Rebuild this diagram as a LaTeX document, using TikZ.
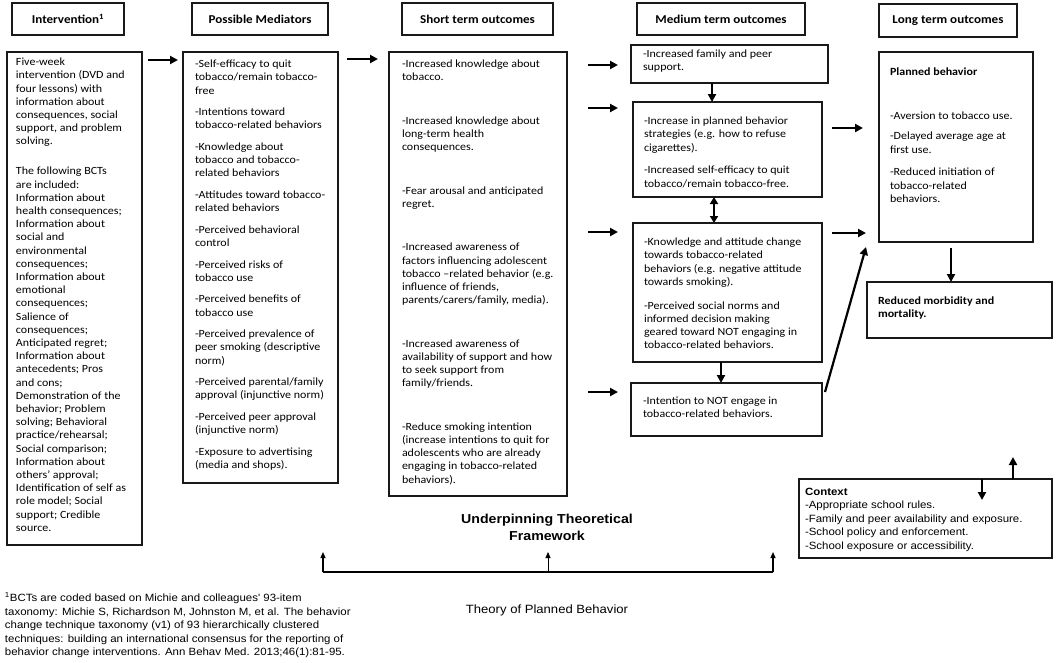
\documentclass[tikz,border=0pt]{standalone}
\usepackage{fontspec}
\setmainfont{Carlito}[FakeStretch=1.09]
\newfontfamily\arialf{Liberation Sans}[FakeStretch=1.09]
\usetikzlibrary{arrows.meta,calc}
\begin{document}
\begin{tikzpicture}[x=1pt,y=-1pt,
  box/.style={draw=black!90, line width=1.2pt, inner sep=0pt, outer sep=0pt, anchor=north west},
  txt/.style={inner sep=0pt, outer sep=0pt, anchor=north west, align=left, font=\fontsize{11}{13.2}\selectfont},
  hdr/.style={font=\bfseries\fontsize{12}{14}\selectfont},
  atxt/.style={inner sep=0pt, outer sep=0pt, anchor=north west, align=left, font=\arialf\fontsize{10.5}{13.5}\selectfont},
  arr/.style={line width=2.2pt, -{Triangle[length=8pt,width=8pt]}},
  darr/.style={line width=2.2pt, {Triangle[length=7pt,width=8pt]}-{Triangle[length=7pt,width=8pt]}},
  barr/.style={line width=1.3pt, -{Triangle[length=6pt,width=5pt]}},
]
\useasboundingbox (0,0) rectangle (1056,662);

% headers
\node[box, hdr, minimum width=112, minimum height=32] (h1) at (12,3) {Intervention\textsuperscript{1}};
\node[box, hdr, minimum width=136, minimum height=32] (h2) at (192,3) {Possible Mediators};
\node[box, hdr, minimum width=151, minimum height=32] (h3) at (402,3) {Short term outcomes};
\node[box, hdr, minimum width=168, minimum height=32] (h4) at (637,3) {Medium term outcomes};
\node[box, hdr, minimum width=138, minimum height=33] (h5) at (879,4) {Long term outcomes};

% main boxes
\node[box, minimum width=135, minimum height=493] (int) at (7,52) {};
\node[box, minimum width=155, minimum height=431] (med) at (183,52) {};
\node[box, minimum width=178, minimum height=444] (sho) at (389,52) {};
\node[box, minimum width=197, minimum height=38] (m1) at (631,45) {};
\node[box, minimum width=189, minimum height=95] (m2) at (633,102) {};
\node[box, minimum width=189, minimum height=139] (m3) at (633,223) {};
\node[box, minimum width=191, minimum height=53] (m4) at (631,383) {};
\node[box, minimum width=154, minimum height=190] (lon) at (879,52) {};
\node[box, minimum width=185, minimum height=56] (red) at (867,282) {};
\node[box, minimum width=253, minimum height=79] (ctx) at (799,479) {};

% texts
\node[txt] (tint) at (16,56.4) {\strut Five-week\\
intervention (DVD and\\
four lessons) with\\
information about\\
consequences, social\\
support, and problem\\
solving.\\[16.8pt]
The following BCTs\\
are included:\\
Information about\\
health consequences;\\
Information about\\
social and\\
environmental\\
consequences;\\
Information about\\
emotional\\
consequences;\\
Salience of\\
consequences;\\
Anticipated regret;\\
Information about\\
antecedents; Pros\\
and cons;\\
Demonstration of the\\
behavior; Problem\\
solving; Behavioral\\
practice/rehearsal;\\
Social comparison;\\
Information about\\
others' approval;\\
Identification of self as\\
role model; Social\\
support; Credible\\
source.};

\node[txt] (tmed) at (195,58.4) {\strut -Self-efficacy to quit\\
tobacco/remain tobacco-\\
free\\[8.4pt]
-Intentions toward\\
tobacco-related behaviors\\[8.4pt]
-Knowledge about\\
tobacco and tobacco-\\
related behaviors\\[8.4pt]
-Attitudes toward tobacco-\\
related behaviors\\[8.4pt]
-Perceived behavioral\\
control\\[8.4pt]
-Perceived risks of\\
tobacco use\\[8.4pt]
-Perceived benefits of\\
tobacco use\\[8.4pt]
-Perceived prevalence of\\
peer smoking (descriptive\\
norm)\\[8.4pt]
-Perceived parental/family\\
approval (injunctive norm)\\[8.4pt]
-Perceived peer approval\\
(injunctive norm)\\[8.4pt]
-Exposure to advertising\\
(media and shops).};

\node[txt] (tsho) at (402,58.4) {\strut -Increased knowledge about\\
tobacco.\\[30.3pt]
-Increased knowledge about\\
long-term health\\
consequences.\\[30.3pt]
-Fear arousal and anticipated\\
regret.\\[30.3pt]
-Increased awareness of\\
factors influencing adolescent\\
tobacco –related behavior (e.g.\\
influence of friends,\\
parents/carers/family, media).\\[30.3pt]
-Increased awareness of\\
availability of support and how\\
to seek support from\\
family/friends.\\[30.3pt]
-Reduce smoking intention\\
(increase intentions to quit for\\
adolescents who are already\\
engaging in tobacco-related\\
behaviors).};

\node[txt] (tm1) at (643,48.4) {\strut -Increased family and peer\\support.};
\node[txt] (tm2) at (644,115.4) {\strut -Increase in planned behavior\\
strategies (e.g. how to refuse\\
cigarettes).\\[9.6pt]
-Increased self-efficacy to quit\\
tobacco/remain tobacco-free.};
\node[txt] (tm3) at (644,236.4) {\strut -Knowledge and attitude change\\
towards tobacco-related\\
behaviors (e.g. negative attitude\\
towards smoking).\\[10.8pt]
-Perceived social norms and\\
informed decision making\\
geared toward NOT engaging in\\
tobacco-related behaviors.};
\node[txt] (tm4) at (643,395.4) {\strut -Intention to NOT engage in\\tobacco-related behaviors.};

\node[txt] (tlon) at (890,66.4) {\strut\textbf{Planned behavior}\\[30.8pt]
-Aversion to tobacco use.\\[7pt]
-Delayed average age at\\
first use.\\[9.6pt]
-Reduced initiation of\\
tobacco-related\\
behaviors.};
\node[txt, font=\bfseries\fontsize{11}{13.2}\selectfont] (tred) at (878,295.4) {\strut Reduced morbidity and\\mortality.};

\node[atxt] (tctx) at (805,486) {\strut\textbf{Context}\\
-Appropriate school rules.\\
-Family and peer availability and exposure.\\
-School policy and enforcement.\\
-School exposure or accessibility.};

\node[atxt] (foot) at (5,592.2) {\strut\textsuperscript{1}BCTs are coded based on Michie and colleagues' 93-item\\
taxonomy: Michie S, Richardson M, Johnston M, et al. The behavior\\
change technique taxonomy (v1) of 93 hierarchically clustered\\
techniques: building an international consensus for the reporting of\\
behavior change interventions. Ann Behav Med. 2013;46(1):81-95.};

\node[inner sep=0pt, anchor=north, align=center, font=\arialf\bfseries\fontsize{13}{17}\selectfont] (utf) at (547,511.5) {\strut Underpinning Theoretical\\Framework};
\node[inner sep=0pt, anchor=base, font=\arialf\fontsize{12}{14}\selectfont] (tpb) at (547,613.1) {Theory of Planned Behavior};

% arrows
\draw[arr] ($(int.north east)+(6,8)$) -- ($(med.north west)+(-5,8)$);
\draw[arr] ($(med.north east)+(9,7)$) -- ($(sho.north west)+(-11,7)$);
\draw[arr] ($(sho.north east)+(21,13)$) -- ($(sho.north east)+(51,13)$) coordinate (e1);
\draw[arr] ($(sho.north east)+(21,56)$) -- ($(sho.north east)+(51,56)$) coordinate (e2);
\draw[arr] ($(sho.north east)+(21,180)$) -- ($(sho.north east)+(51,180)$) coordinate (e3);
\draw[arr] ($(sho.north east)+(21,340)$) -- ($(sho.north east)+(51,340)$) coordinate (e4);
\draw[arr] (m1.south -| 712,0) -- (m2.north -| 712,0);
\draw[darr] (m2.south -| 714,0) -- (m3.north -| 714,0);
\draw[arr] (m3.south -| 721,0) -- (m4.north -| 721,0);
\draw[arr] ($(m2.north east)+(10,26)$) -- ($(lon.north west)+(-16,76)$);
\draw[arr] ($(m3.north east)+(10,10)$) -- ($(lon.north west)+(-13,181)$);
\draw[arr] ($(m4.north east)+(3,9)$) -- ($(lon.south west)+(-13,5)$);
\draw[arr] ($(lon.south)+(-5,6)$) -- (red.north -| 951,0);
\draw[arr] (ctx.north -| 1013,0) -- ++(0,-22) coordinate (cup);
\draw[arr] (ctx.north -| 982,0) -- ++(0,21) coordinate (cdn);

% bracket
\coordinate (bl) at (323,572);
\coordinate (br) at (773,572);
\coordinate (bm) at (548,572);
\draw[line width=2.4pt] (bl) -- (br);
\draw[barr] (bl) -- ++(0,-20);
\draw[barr] (br) -- ++(0,-20);
\draw[line width=0.9pt, -{Triangle[length=6pt,width=5pt]}] (bm) -- ++(0,-20);
\end{tikzpicture}
\end{document}
